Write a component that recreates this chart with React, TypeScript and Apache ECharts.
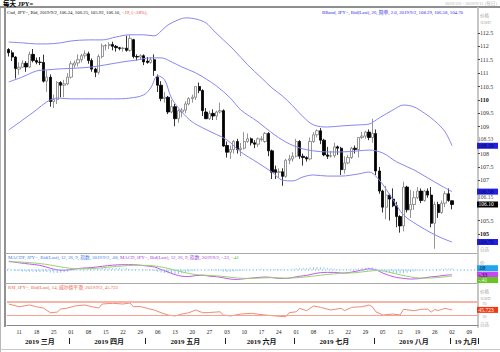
import React, { useEffect, useRef } from 'react';
import * as echarts from 'echarts';

const FONT = "'Liberation Serif', 'Noto Sans CJK SC', serif";

// ---- categories: every trading day (Mon-Fri) 2019-03-06 .. 2019-09-11
function buildDates(): string[] {
  const out: string[] = [];
  const d = new Date(Date.UTC(2019, 2, 6));
  const end = Date.UTC(2019, 8, 11);
  while (d.getTime() <= end) {
    const wd = d.getUTCDay();
    if (wd !== 0 && wd !== 6) out.push(d.toISOString().slice(0, 10));
    d.setUTCDate(d.getUTCDate() + 1);
  }
  return out;
}
const categories = buildDates();

const monthLabels = ['2019 三月', '2019 四月', '2019 五月', '2019 六月', '2019 七月', '2019 八月', '19 九月'];
const priceTicks = [105, 105.5, 106, 106.5, 107, 107.5, 108, 108.5, 109, 109.5, 110, 110.5, 111, 111.5, 112, 112.5];
// labels hidden where a price tag sits on top of them
const priceLabels = [105, 105.5, 107, 107.5, 108, 109, 109.5, 110, 110.5, 111, 111.5, 112, 112.5];

// ---- daily candles (open, high, low, close)
const opens = [
  111.88, 111.76, 111.60, 111.15, 111.22, 111.37, 111.23, 111.70, 111.47, 111.41,
  111.40, 110.70, 110.85, 109.94, 110.02, 110.65, 110.55, 110.60, 110.85, 111.30,
  111.38, 111.50, 111.65, 111.72, 111.47, 111.15, 111.03, 111.62, 112.02, 112.03,
  112.07, 112.00, 111.95, 111.92, 111.93, 111.85, 112.25, 111.62, 111.60, 111.65,
  111.45, 111.40, 111.50, 110.85, 110.55, 110.05, 110.10, 109.55, 109.75, 109.30,
  109.55, 109.62, 109.85, 110.05, 110.10, 110.50, 110.35, 109.55, 109.30, 109.50,
  109.40, 109.55, 109.60, 108.30, 108.05, 108.15, 108.45, 108.15, 108.20, 108.45,
  108.55, 108.40, 108.35, 108.52, 108.45, 108.75, 108.10, 107.40, 107.30, 107.32,
  107.15, 107.75, 107.80, 107.90, 108.45, 107.90, 107.85, 107.80, 108.45, 108.70,
  108.85, 108.50, 107.95, 107.90, 107.92, 108.25, 108.20, 107.40, 107.65, 107.85,
  108.20, 108.15, 108.60, 108.65, 108.80, 108.60, 108.75, 107.35, 106.60, 106.00,
  106.45, 106.30, 106.05, 105.65, 105.30, 106.75, 105.90, 106.10, 106.35, 106.60,
  106.25, 106.60, 106.45, 105.40, 106.10, 105.80, 106.15, 106.50, 106.24,
];
const highs = [
  111.93, 111.85, 111.63, 111.40, 111.48, 111.45, 111.80, 111.90, 111.58, 111.60,
  111.69, 111.10, 110.95, 110.20, 110.70, 110.70, 110.75, 111.00, 111.45, 111.47,
  111.70, 111.72, 111.85, 111.80, 111.55, 111.20, 111.70, 112.10, 112.08, 112.15,
  112.17, 112.05, 111.98, 111.98, 112.40, 112.42, 112.28, 111.70, 111.70, 111.70,
  111.60, 111.60, 111.70, 110.95, 110.70, 110.30, 110.15, 110.00, 109.85, 109.65,
  109.70, 109.95, 110.10, 110.20, 110.50, 110.65, 110.40, 109.70, 109.60, 109.65,
  109.60, 109.90, 109.65, 108.45, 108.30, 108.50, 108.55, 108.40, 108.80, 108.75,
  108.60, 108.50, 108.60, 108.65, 108.80, 108.80, 108.15, 107.55, 107.45, 107.45,
  107.80, 107.95, 108.05, 108.55, 108.50, 108.00, 107.90, 108.60, 108.80, 108.90,
  108.95, 108.55, 108.25, 108.10, 108.40, 108.30, 108.25, 107.90, 107.95, 108.25,
  108.30, 108.60, 108.80, 108.85, 108.90, 109.30, 108.90, 107.50, 106.65, 106.80,
  106.50, 106.70, 106.20, 105.70, 106.95, 106.80, 106.65, 106.60, 106.75, 106.70,
  106.65, 106.70, 106.75, 106.20, 106.20, 106.25, 106.60, 106.70, 106.25,
];
const lows = [
  111.62, 111.45, 110.80, 110.94, 111.20, 111.05, 111.20, 111.40, 111.33, 111.30,
  110.65, 110.30, 109.75, 109.70, 109.85, 110.10, 110.10, 110.55, 110.80, 111.20,
  111.25, 111.40, 111.55, 111.35, 111.05, 110.85, 110.95, 111.55, 111.85, 111.90,
  111.85, 111.80, 111.85, 111.80, 111.80, 111.80, 111.55, 111.47, 111.50, 111.30,
  111.35, 111.35, 110.90, 110.30, 109.95, 109.90, 109.47, 109.50, 109.02, 109.15,
  109.35, 109.50, 109.80, 109.90, 110.00, 110.25, 109.40, 109.30, 109.25, 109.25,
  109.25, 109.50, 108.25, 107.85, 107.80, 108.00, 108.00, 107.90, 108.15, 108.40,
  108.30, 108.20, 108.25, 108.45, 108.40, 107.90, 107.05, 107.05, 107.10, 106.80,
  107.10, 107.60, 107.70, 107.85, 107.80, 107.55, 107.70, 107.75, 108.40, 108.60,
  108.35, 107.90, 107.80, 107.85, 107.85, 107.95, 107.20, 107.25, 107.60, 107.80,
  108.00, 107.85, 108.55, 108.55, 108.50, 108.40, 107.20, 106.50, 105.80, 105.55,
  105.50, 106.00, 105.25, 105.05, 105.10, 105.80, 105.60, 105.90, 106.30, 106.15,
  106.20, 106.35, 105.25, 104.45, 105.60, 105.75, 106.00, 106.20, 105.92,
];
const closes = [
  111.76, 111.60, 111.17, 111.22, 111.37, 111.23, 111.70, 111.47, 111.41, 111.40,
  110.70, 110.85, 109.94, 110.02, 110.65, 110.55, 110.60, 110.85, 111.35, 111.38,
  111.50, 111.65, 111.72, 111.47, 111.15, 111.03, 111.62, 112.02, 112.03, 112.07,
  112.00, 111.95, 111.92, 111.93, 111.85, 112.30, 111.62, 111.60, 111.65, 111.42,
  111.40, 111.50, 111.10, 110.55, 110.05, 110.10, 109.55, 109.75, 109.30, 109.60,
  109.62, 109.85, 110.05, 110.10, 110.50, 110.35, 109.60, 109.30, 109.50, 109.40,
  109.55, 109.60, 108.28, 108.05, 108.15, 108.45, 108.15, 108.20, 108.45, 108.55,
  108.40, 108.35, 108.55, 108.55, 108.75, 108.10, 107.30, 107.30, 107.32, 107.15,
  107.75, 107.80, 107.90, 108.45, 107.90, 107.85, 107.80, 108.45, 108.70, 108.85,
  108.50, 107.95, 107.90, 107.92, 108.25, 108.20, 107.40, 107.65, 107.85, 108.20,
  108.15, 108.60, 108.65, 108.80, 108.60, 108.75, 107.35, 106.60, 106.00, 106.45,
  106.30, 106.05, 105.65, 105.30, 106.75, 105.90, 106.10, 106.35, 106.60, 106.25,
  106.60, 106.45, 105.40, 106.10, 105.80, 106.15, 106.50, 106.25, 106.10,
];

// ---- Bollinger band (26, 2.0) read at sample days: [dayIndex, value]
const upperBand = [
  [0, 112.16], [4, 112.13], [8, 112.09], [11, 112.09], [15, 112.13], [18, 112.2], [23, 112.24],
  [27, 112.24], [31, 112.35], [35, 112.43], [39, 112.43], [42, 112.39], [44, 112.57], [46, 112.8],
  [49, 112.99], [51, 113.06], [54, 113.02], [57, 112.87], [59, 112.61], [62, 112.24], [65, 111.87],
  [69, 111.31], [73, 110.82], [76, 110.45], [79, 110.15], [82, 109.78], [85, 109.37], [88, 109.07],
  [92, 108.99], [96, 109.03], [101, 109.07], [104, 109.1], [107, 109.33], [111, 109.63], [114, 109.81],
  [117, 109.74], [120, 109.51], [123, 109.22], [126, 108.81], [128, 108.29],
];
const midBand = [
  [0, 110.67], [4, 110.86], [8, 111.08], [11, 111.12], [15, 111.16], [20, 111.19], [24, 111.23],
  [28, 111.31], [33, 111.42], [37, 111.49], [41, 111.57], [44, 111.57], [47, 111.42], [50, 111.23],
  [54, 111.01], [57, 110.78], [60, 110.52], [64, 110.07], [67, 109.63], [72, 109.18], [76, 108.77],
  [80, 108.43], [84, 108.21], [88, 108.1], [92, 108.06], [96, 108.06], [101, 108.1], [104, 108.13],
  [108, 108.02], [112, 107.69], [117, 107.39], [121, 107.09], [125, 106.79], [128, 106.58],
];
const lowerBand = [
  [0, 108.88], [4, 109.25], [8, 109.63], [11, 109.93], [14, 110.07], [18, 110.04], [24, 110.04],
  [30, 110.04], [35, 110.07], [39, 110.19], [41, 110.45], [43, 110.9], [45, 110.75], [47, 110.07],
  [50, 109.55], [53, 109.18], [56, 108.96], [59, 108.77], [63, 108.51], [67, 108.06], [72, 107.65],
  [76, 107.31], [79, 107.01], [82, 106.98], [85, 107.13], [88, 107.2], [92, 107.16], [96, 107.16],
  [101, 107.24], [104, 107.31], [107, 107.01], [111, 106.27], [114, 105.71], [118, 105.34],
  [122, 105.04], [125, 104.85], [128, 104.7],
];

// ---- MACD (12, 26, 9)
const macdLine = [
  [0, 0.52], [3, 0.42], [6, 0.34], [9, 0.26], [12, 0.08], [14, -0.02], [16, -0.05], [18, 0.0],
  [21, 0.08], [24, 0.12], [27, 0.2], [30, 0.27], [33, 0.3], [36, 0.3], [39, 0.24], [42, 0.16],
  [44, 0.0], [46, -0.16], [48, -0.32], [50, -0.42], [52, -0.44], [54, -0.38], [56, -0.36],
  [58, -0.42], [60, -0.45], [62, -0.52], [64, -0.6], [66, -0.62], [68, -0.58], [71, -0.52],
  [74, -0.47], [76, -0.5], [78, -0.56], [80, -0.56], [82, -0.5], [84, -0.42], [86, -0.37],
  [88, -0.27], [90, -0.2], [92, -0.18], [94, -0.18], [96, -0.22], [98, -0.2], [100, -0.12],
  [102, -0.04], [104, 0.04], [106, -0.02], [108, -0.22], [110, -0.38], [112, -0.5], [114, -0.55],
  [116, -0.6], [118, -0.58], [120, -0.52], [122, -0.46], [124, -0.42], [126, -0.36], [128, -0.33],
];
const signalLine = [
  [0, 0.48], [3, 0.47], [6, 0.43], [9, 0.37], [12, 0.28], [15, 0.16], [18, 0.07], [21, 0.04],
  [24, 0.06], [27, 0.11], [30, 0.17], [33, 0.22], [36, 0.26], [39, 0.26], [42, 0.22], [45, 0.12],
  [48, -0.04], [51, -0.2], [54, -0.32], [57, -0.36], [60, -0.4], [63, -0.46], [66, -0.53],
  [69, -0.56], [72, -0.54], [76, -0.51], [80, -0.54], [84, -0.5], [88, -0.41], [92, -0.31],
  [96, -0.24], [100, -0.2], [104, -0.1], [107, -0.06], [110, -0.18], [113, -0.33], [116, -0.46],
  [119, -0.54], [122, -0.53], [125, -0.48], [128, -0.41],
];
const macdHist = [
  0.04, -0.02, -0.08,
  -0.1, -0.12, -0.14, -0.12, -0.14,
  -0.15, -0.16, -0.14, -0.15, -0.18,
  -0.2, -0.22, -0.2, -0.17, -0.14,
  -0.08, -0.04, 0.0, 0.03, 0.06,
  0.07, 0.06, 0.05, 0.07, 0.1,
  0.11, 0.1, 0.1, 0.09, 0.08,
  0.07, 0.08, 0.04, 0.03, 0.01,
  -0.01, -0.03, -0.05, -0.05, -0.09,
  -0.14, -0.18, -0.22, -0.24, -0.28,
  -0.3, -0.28, -0.25, -0.2, -0.14,
  -0.1, -0.05, -0.02, 0.0, -0.02,
  -0.04, -0.05, -0.06, -0.06, -0.12,
  -0.15, -0.14, -0.12, -0.1, -0.08,
  -0.05, -0.02, 0.0, 0.02, 0.03,
  0.04, 0.03, 0.01, -0.03, -0.05,
  -0.05, -0.03, -0.01, 0.02, 0.04,
  0.08, 0.09, 0.1, 0.1, 0.12,
  0.14, 0.15, 0.14, 0.12, 0.1,
  0.08, 0.06, 0.03, 0.02, 0.02,
  0.03, 0.04, 0.06, 0.08, 0.1,
  0.11, 0.12, 0.12, 0.06, -0.04,
  -0.12, -0.18, -0.22, -0.24, -0.25,
  -0.24, -0.24, -0.2, -0.16, -0.12,
  -0.06, -0.04, 0.0, 0.02, 0.02,
  0.0, 0.03, 0.05, 0.06, 0.07,
  0.08,
];

// ---- RSI (14, Wilder)
const rsiLine = [
  [0, 63.8], [3, 55.5], [6, 60.8], [8, 55.5], [10, 51.5], [12, 37], [14, 39], [15, 48.5],
  [17, 51.5], [19, 57.7], [22, 60.8], [24, 55.5], [26, 51.5], [27, 63.8], [30, 66], [33, 63.8],
  [35, 67], [36, 55.5], [38, 56], [40, 50.6], [42, 45.4], [44, 37], [46, 30], [48, 27], [50, 33],
  [52, 37], [54, 45.4], [56, 37], [58, 37.7], [61, 40], [62, 30], [64, 27], [67, 33], [70, 35.2],
  [74, 30], [77, 27], [80, 24.8], [81, 37], [83, 40], [84, 50.6], [86, 43.2], [88, 57.7],
  [90, 53.7], [93, 45.4], [96, 50.6], [97, 43.2], [99, 53.7], [102, 55.5], [104, 60.8],
  [105, 55.5], [106, 40], [108, 30], [111, 33], [113, 30], [114, 47.5], [117, 43.2], [119, 47.5],
  [121, 48], [122, 39], [123, 47], [124, 44], [125, 47], [126, 50.6], [127, 48], [128, 45.723],
];

const GRID_L = 7;
const GRID_R = 22;

function tag(value: number, text: string, bg: string, fg: string, bold = false) {
  return {
    yAxis: value,
    lineStyle: { color: 'rgba(0,0,0,0)', width: 0 },
    label: {
      show: true,
      position: 'end',
      formatter: text,
      distance: -1,
      backgroundColor: bg,
      color: fg,
      fontSize: 5.5,
      fontWeight: bold ? 'bold' : 'normal',
      fontFamily: FONT,
      lineHeight: 6,
      width: 18,
      padding: [0, 1.5, 0, 1.5],
    },
  };
}
function plainTag(value: number, text: string, color: string) {
  return {
    yAxis: value,
    lineStyle: { color: 'rgba(0,0,0,0)', width: 0 },
    label: {
      show: true,
      position: 'end',
      formatter: text,
      distance: 0,
      color,
      fontSize: 5.5,
      fontFamily: FONT,
    },
  };
}

function buildOption() {
  const mondays = new Set<number>();
  const monthStarts = new Set<number>();
  const monthMid = new Map<number, string>();
  const ranges: { first: number; last: number }[] = [];
  categories.forEach((c, i) => {
    const d = new Date(c + 'T00:00:00Z');
    if (d.getUTCDay() === 1) mondays.add(i);
    if (i === 0 || c.slice(5, 7) !== categories[i - 1].slice(5, 7)) {
      if (i > 0) monthStarts.add(i);
      ranges.push({ first: i, last: i });
    } else {
      ranges[ranges.length - 1].last = i;
    }
  });
  ranges.forEach((r, k) => monthMid.set(Math.round((r.first + r.last) / 2), monthLabels[k]));

  const candleData = opens.map((o, i) => [o, closes[i], lows[i], highs[i]]);
  const bandLine = (data: number[][], name: string, endTag: number, endText: string) => ({
    type: 'line', name, xAxisIndex: 0, yAxisIndex: 0, data, showSymbol: false, smooth: 0.35,
    lineStyle: { color: '#8686f4', width: 1 }, silent: true,
    markLine: { silent: true, symbol: ['none', 'none'], animation: false, data: [tag(endTag, endText, '#1f1fe6', '#0a0a40')] },
  });

  const hiddenX = (gridIndex: number) => ({
    type: 'category', gridIndex, data: categories, boundaryGap: true,
    axisLine: { show: false }, axisTick: { show: false }, axisLabel: { show: false }, splitLine: { show: false },
  });
  const rightY = (gridIndex: number, min: number, max: number) => ({
    type: 'value', gridIndex, position: 'right', min, max,
    axisLine: { show: true, lineStyle: { color: '#c6c6c6', width: 2 } },
    axisTick: { show: false }, axisLabel: { show: false }, splitLine: { show: false },
  });

  const gtext = (x: number, y: number, text: string, fill: string, size = 4.8, extra: any = {}) => ({
    type: 'text', x, y, silent: true,
    style: { text, fill, fontSize: size, fontFamily: FONT, verticalAlign: 'middle', ...extra },
  });
  const gline = (x1: number, y1: number, x2: number, y2: number, stroke: string, lineWidth = 1) => ({
    type: 'line', silent: true, shape: { x1, y1, x2, y2 }, style: { stroke, lineWidth },
  });

  return {
    animation: false,
    backgroundColor: '#ffffff',
    textStyle: { fontFamily: FONT },
    grid: [
      { left: GRID_L, right: GRID_R, top: 8, height: 245 },
      { left: GRID_L, right: GRID_R, top: 253, height: 30 },
      { left: GRID_L, right: GRID_R, top: 283, height: 44 },
    ],
    xAxis: [
      hiddenX(0),
      hiddenX(1),
      {
        type: 'category', gridIndex: 2, data: categories, boundaryGap: true,
        axisLine: { show: true, lineStyle: { color: '#8a8a8a', width: 1 } },
        axisTick: { show: false },
        axisLabel: {
          show: true, interval: (i: number) => mondays.has(i), hideOverlap: false,
          formatter: (v: string) => v.slice(8, 10), fontSize: 5.5, color: '#222', margin: 2.5,
        },
        splitLine: { show: false },
      },
      {
        type: 'category', gridIndex: 2, data: categories, boundaryGap: true, position: 'bottom', offset: 11,
        axisLine: { show: false },
        axisTick: { show: true, interval: (i: number) => monthStarts.has(i), length: 6, lineStyle: { color: '#222', width: 1 } },
        axisLabel: {
          show: true, interval: (i: number) => monthMid.has(i), hideOverlap: false,
          formatter: (_v: string, i: number) => monthMid.get(i) || '',
          fontSize: 7, fontWeight: 'bold', color: '#111', margin: 0,
        },
        splitLine: { show: false },
      },
    ],
    yAxis: [
      {
        type: 'value', gridIndex: 0, position: 'right', min: 104.29, max: 113.43,
        axisLine: { show: true, lineStyle: { color: '#c6c6c6', width: 2 } },
        axisTick: { show: true, customValues: priceLabels, length: 2, lineStyle: { color: '#444' } },
        axisLabel: {
          show: true, customValues: priceLabels, margin: 2, fontSize: 6, color: '#333',
          formatter: (v: number) => (v % 5 === 0 ? `{b|${v}}` : `${v}`),
          rich: { b: { fontWeight: 'bold', fontSize: 6, color: '#111' } },
        },
        splitLine: { show: false },
      },
      rightY(1, -0.844, 1.031),
      rightY(2, -6.9, 128.5),
    ],
    series: [
      {
        type: 'candlestick', name: 'JPY=', xAxisIndex: 0, yAxisIndex: 0, data: candleData, barWidth: 2.8,
        itemStyle: { color: '#ffffff', color0: '#000000', borderColor: '#7a7a7a', borderColor0: '#000000', borderWidth: 0.8 },
        silent: true,
        markLine: {
          silent: true, symbol: ['none', 'none'], animation: false,
          data: [
            plainTag(108.53, '108.53', '#555'),
            plainTag(106.38, '106.15', '#555'),
            tag(106.10, '106.10', '#000000', '#ffffff'),
          ],
        },
      },
      bandLine(upperBand, 'upper', 108.29, '108.29'),
      bandLine(midBand, 'mid', 106.58, '106.58'),
      bandLine(lowerBand, 'lower', 104.70, '104.70'),
      {
        type: 'bar', name: 'MACDF', xAxisIndex: 1, yAxisIndex: 1, data: macdHist, barWidth: 1,
        itemStyle: { color: '#8ec6f2' }, silent: true,
        markLine: {
          silent: true, symbol: ['none', 'none'], animation: false,
          data: [
            { yAxis: 0, lineStyle: { color: '#9fd0f6', width: 2, type: [1, 2.46] }, label: { show: false } },
            tag(0.08, '.08', '#22a4f2', '#0a2a50'),
          ],
        },
      },
      {
        type: 'line', name: 'MACD', xAxisIndex: 1, yAxisIndex: 1, data: macdLine, showSymbol: false, smooth: 0.35,
        lineStyle: { color: '#c455ee', width: 1 }, silent: true,
        markLine: { silent: true, symbol: ['none', 'none'], animation: false, data: [tag(-0.33, '-.33', '#c64af0', '#300040')] },
      },
      {
        type: 'line', name: 'Signal', xAxisIndex: 1, yAxisIndex: 1, data: signalLine, showSymbol: false, smooth: 0.35,
        lineStyle: { color: '#98d468', width: 1 }, silent: true,
        markLine: { silent: true, symbol: ['none', 'none'], animation: false, data: [tag(-0.66, '-.41', '#66c424', '#ffffff')] },
      },
      {
        type: 'line', name: 'RSI', xAxisIndex: 2, yAxisIndex: 2, data: rsiLine, showSymbol: false,
        lineStyle: { color: '#f28a78', width: 1 }, silent: true,
        markLine: {
          silent: true, symbol: ['none', 'none'], animation: false,
          data: [
            { yAxis: 70, lineStyle: { color: '#f8b4a6', width: 2, type: 'solid' }, label: { show: false } },
            { yAxis: 30, lineStyle: { color: '#f4a292', width: 1.2, type: 'solid' }, label: { show: false } },
            tag(45.723, '45.723', '#f03a14', '#ffffff'),
          ],
        },
      },
    ],
    graphic: [
      gline(0, 7, 500, 7, '#8f8f8f', 2),
      gline(5, 8, 5, 327, '#6e6e6e', 1.5),
      gline(5, 253.5, 478, 253.5, '#a8a8a8', 1),
      gline(5, 283.5, 478, 283.5, '#a8a8a8', 1),
      gline(0.5, 8, 0.5, 352, '#b8b8b8', 1),
      gline(0, 349.5, 500, 349.5, '#c8c8c8', 1),
      gtext(3, 3.6, '每天 JPY=', '#000', 6.5, { fontWeight: 'bold' }),
      gtext(497, 3.6, '2019/3/6 - 2019/9/11 (每日)', '#b4b4b4', 4.6, { align: 'right' }),
      {
        type: 'text', x: 7, y: 12.5, silent: true,
        style: {
          text: '{k|Cnd, JPY=, Bid, 2019/9/2, 106.24, 106.25, 105.92, 106.10, }{r|-.19, (-.18%),}',
          fontSize: 4.8, fontFamily: FONT, verticalAlign: 'middle',
          rich: { k: { fill: '#111', fontSize: 4.8, fontFamily: FONT }, r: { fill: '#e8402a', fontSize: 4.8, fontFamily: FONT } },
        },
      },
      gtext(463, 12.5, 'BBand, JPY=, Bid(Last), 26, 简单, 2.0, 2019/9/2, 108.29, 106.58, 104.70', '#2a2af0', 4.8, { align: 'right' }),
      gtext(480, 15, '价格', '#a0a0a0', 4.6),
      gtext(480, 22.5, '/USD', '#a0a0a0', 4.6),
      gtext(480, 249.5, '自选', '#b0b0b0', 4.6),
      {
        type: 'text', x: 8, y: 257, silent: true,
        style: {
          text: '{a|MACDF, JPY=, Bid(Last), 12, 26, 9, 指数, 2019/9/2, .08, }{b|MACD, JPY=, Bid(Last), 12, 26, 9, 指数, 2019/9/2, -.33, }{c|-.41}',
          fontSize: 4.8, fontFamily: FONT, verticalAlign: 'middle',
          rich: {
            a: { fill: '#3a7ef0', fontSize: 4.8, fontFamily: FONT },
            b: { fill: '#a040e8', fontSize: 4.8, fontFamily: FONT },
            c: { fill: '#4aa828', fontSize: 4.8, fontFamily: FONT },
          },
        },
      },
      gtext(480, 262, '价', '#a0a0a0', 4.6),
      gtext(8, 287, 'RSI, JPY=, Bid(Last), 14, 威尔德平滑, 2019/9/2, 45.723', '#ee5a3c', 4.8),
      gtext(480, 291.5, '价格', '#a0a0a0', 4.6),
      gtext(480, 298, '/USD', '#a0a0a0', 4.6),
      gtext(482, 303.5, '70', '#b0b0b0', 4.6),
      gtext(482, 316, '30', '#b0b0b0', 4.6),
      gtext(480, 324.5, '自选', '#b0b0b0', 4.6),
    ],
  };
}

export default function App() {
  const ref = useRef<HTMLDivElement>(null);
  useEffect(() => {
    if (!ref.current) return;
    const chart = echarts.init(ref.current, undefined, { renderer: 'svg' });
    chart.setOption(buildOption() as any);
    return () => chart.dispose();
  }, []);
  return (
    <div
      ref={ref}
      style={{ position: 'absolute', left: 0, top: 0, width: 500, height: 352, background: '#fff' }}
    />
  );
}
